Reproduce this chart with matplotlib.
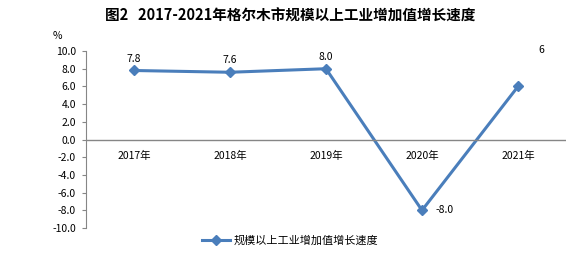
import matplotlib.pyplot as plt
import numpy as np

plt.rcParams['font.family'] = ['Noto Sans CJK SC', 'DejaVu Sans']

years = ['2017年', '2018年', '2019年', '2020年', '2021年']
growth = [7.8, 7.6, 8.0, -8.0, 6]
point_labels = ['7.8', '7.6', '8.0', '-8.0', '6']
yticks = np.arange(-10, 10.1, 2)

fig = plt.figure(figsize=(5.8, 2.63), dpi=100)
ax = fig.add_axes([0.148, 0.133, 0.828, 0.673])

x = np.arange(len(years))
color = '#4a7ebb'
ax.plot(x, growth, color=color, lw=2.2, marker='D', ms=5, label='规模以上工业增加值增长速度')

# data labels
for i, (v, s) in enumerate(zip(growth, point_labels)):
    if v < 0:
        ax.annotate(s, (i, v), xytext=(10, 0), textcoords='offset points',
                    ha='left', va='center', fontsize=7.5)
    elif i == len(years) - 1:
        ax.annotate(s, (i, v), xytext=(17, 26), textcoords='offset points',
                    ha='center', va='center', fontsize=7.5)
    else:
        ax.annotate(s, (i, v), xytext=(0, 5), textcoords='offset points',
                    ha='center', va='bottom', fontsize=7.5)

ax.set_xlim(-0.5, len(years) - 0.5)
ax.set_ylim(-10, 10)
ax.set_yticks(yticks)
ax.set_yticklabels(['%.1f' % t for t in yticks], fontsize=7.5)
ax.set_xticks([])

ax.axhline(0, color='#868686', lw=1)
for i, yl in enumerate(years):
    ax.text(i, -1.9, yl, ha='center', va='center', fontsize=7.5)

for s in ['top', 'right', 'bottom']:
    ax.spines[s].set_visible(False)
ax.spines['left'].set_color('#868686')
ax.tick_params(axis='y', length=3, color='#868686', pad=4)

ax.text(-0.06, 1.07, '%', transform=ax.transAxes, fontsize=7.5, ha='center')

fig.text(0.5, 0.94, '图2   2017-2021年格尔木市规模以上工业增加值增长速度',
         ha='center', va='center', fontsize=10.5, fontweight='bold')

fig.legend(loc='center', bbox_to_anchor=(0.5, 0.085), frameon=False, fontsize=8,
           handlelength=2.5, handletextpad=0.3)

fig.savefig('out.png', dpi=100)
